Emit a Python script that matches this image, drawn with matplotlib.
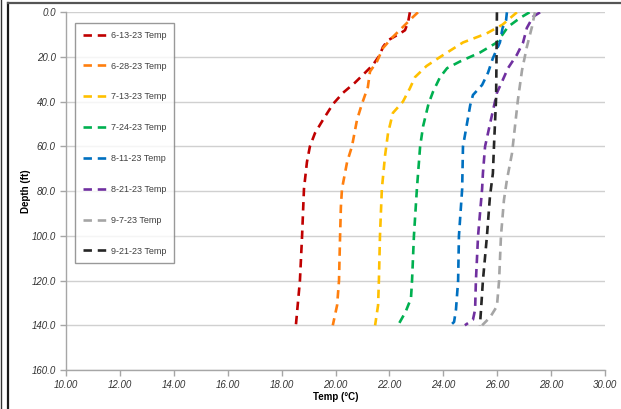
import matplotlib
matplotlib.use("Agg")
from matplotlib import pyplot as plt
from matplotlib.lines import Line2D
from matplotlib.ticker import FormatStrFormatter, MultipleLocator

plt.rcParams["font.family"] = ["Liberation Sans", "DejaVu Sans"]

# --- Datos (profundidad ft, temperatura °C) ---
labels = ["6-13-23 Temp", "6-28-23 Temp", "7-13-23 Temp", "7-24-23 Temp",
          "8-11-23 Temp", "8-21-23 Temp", "9-7-23 Temp", "9-21-23 Temp"]
colors = ["#C00000", "#FF7F0E", "#FFC000", "#00B050",
          "#0070C0", "#7030A0", "#A5A5A5", "#262626"]

depth_0613 = [0, 4, 8, 9.5, 12.5, 15.5, 19, 23.5, 27, 31.5, 36, 41, 48, 54, 60, 67, 79, 100, 120, 140]
temp_0613 = [22.76, 22.7, 22.58, 22.39, 21.95, 21.76, 21.65, 21.39, 21.1, 20.72, 20.28, 19.91, 19.54, 19.24, 19.05, 18.94, 18.83, 18.76, 18.68, 18.53]

depth_0628 = [0, 2.5, 11, 16, 22, 26.5, 33.5, 41, 48, 60, 67, 79, 87, 100, 120, 131, 140]
temp_0628 = [23.06, 22.84, 22.13, 21.76, 21.54, 21.28, 21.2, 20.98, 20.8, 20.61, 20.43, 20.24, 20.2, 20.17, 20.13, 20.06, 19.9]

depth_0713 = [0, 5.5, 9.5, 13.5, 20, 24, 29, 34, 40, 45, 54, 64, 79, 100, 120, 131, 140]
temp_0713 = [26.73, 26.2, 25.6, 24.73, 23.88, 23.38, 22.95, 22.76, 22.5, 22.13, 21.95, 21.84, 21.72, 21.65, 21.61, 21.58, 21.47]

depth_0724 = [0, 2.5, 6.5, 13.5, 18, 22, 25, 29, 35.5, 41, 51, 60, 79, 100, 120, 128, 134, 140]
temp_0724 = [27.2, 26.85, 26.4, 25.99, 25.36, 24.62, 24.14, 23.88, 23.62, 23.45, 23.25, 23.14, 23.02, 22.91, 22.84, 22.8, 22.6, 22.32]

depth_0811 = [0, 3.5, 7, 13.5, 20.5, 27, 32.5, 37, 41.5, 60, 79, 100, 120, 133, 138.5, 140]
temp_0811 = [26.36, 26.33, 26.2, 26.1, 25.84, 25.66, 25.44, 25.1, 25.0, 24.73, 24.7, 24.58, 24.55, 24.47, 24.4, 24.27]

depth_0821 = [0, 2, 7, 13.5, 19, 25, 31, 36, 49, 60, 72, 79, 100, 120, 133, 137.5, 140]
temp_0821 = [27.59, 27.33, 27.1, 26.96, 26.73, 26.4, 26.18, 25.99, 25.75, 25.55, 25.47, 25.44, 25.29, 25.21, 25.18, 25.1, 24.8]

depth_0907 = [0, 6.5, 15.5, 26, 39, 51, 63, 75, 84, 100, 120, 131.5, 136.5, 140]
temp_0907 = [27.4, 27.29, 27.1, 26.92, 26.77, 26.66, 26.55, 26.36, 26.25, 26.14, 26.07, 25.99, 25.73, 25.44]

depth_0921 = [0, 38, 60, 72, 82.5, 100, 120, 133, 140]
temp_0921 = [25.99, 25.96, 25.88, 25.84, 25.73, 25.62, 25.47, 25.4, 25.36]

series = [
    (depth_0613, temp_0613), (depth_0628, temp_0628), (depth_0713, temp_0713),
    (depth_0724, temp_0724), (depth_0811, temp_0811), (depth_0821, temp_0821),
    (depth_0907, temp_0907), (depth_0921, temp_0921),
]

fig = plt.figure(figsize=(6.21, 4.09), dpi=100)
ax = fig.add_axes([66 / 621, 1 - 370 / 409, 539 / 621, (370 - 12.3) / 409])

for (d, t), c, lab in zip(series, colors, labels):
    ax.plot(t, d, color=c, lw=1.9, dashes=(3.2, 2.2), label=lab,
            solid_capstyle="butt", dash_capstyle="butt")

ax.set_xlim(10, 30)
ax.set_ylim(160, 0)
ax.xaxis.set_major_locator(MultipleLocator(2))
ax.yaxis.set_major_locator(MultipleLocator(20))
ax.xaxis.set_major_formatter(FormatStrFormatter("%.2f"))
ax.yaxis.set_major_formatter(FormatStrFormatter("%.1f"))
ax.grid(axis="y", color="#D0D0D0", lw=1.0)
ax.set_axisbelow(True)

for s in ("top", "right"):
    ax.spines[s].set_visible(False)
for s in ("left", "bottom"):
    ax.spines[s].set_color("#A6A6A6")
    ax.spines[s].set_linewidth(1.0)

ax.tick_params(axis="both", colors="#A6A6A6", length=4, width=1, labelsize=7,
               labelcolor="#333333")
for lbl in ax.get_xticklabels() + ax.get_yticklabels():
    lbl.set_fontstyle("italic")

ax.set_xlabel("Temp (°C)", fontsize=7, fontweight="bold", labelpad=1.5)
ax.set_ylabel("Depth (ft)", fontsize=7, fontweight="bold", labelpad=0)

leg = ax.legend(loc="upper left", bbox_to_anchor=((75 - 66) / 539, 1 - (23 - 12.3) / 357.7),
                fontsize=6.5, frameon=True, fancybox=False, borderaxespad=0,
                labelspacing=2.42, handlelength=2.6, handletextpad=0.5,
                borderpad=0.85)
leg.get_frame().set_edgecolor("#808080")
leg.get_frame().set_linewidth(1.0)
for txt in leg.get_texts():
    txt.set_color("#404040")

# --- Marco del gráfico ---
fig.add_artist(Line2D([7.5 / 621, 7.5 / 621], [0, 1 - 2.5 / 409], color="#1A1A1A", lw=1.6,
                      transform=fig.transFigure))
fig.add_artist(Line2D([7.5 / 621, 1], [1 - 2.5 / 409, 1 - 2.5 / 409], color="#555555", lw=1.6,
                      transform=fig.transFigure))
fig.add_artist(Line2D([0.5 / 621, 0.5 / 621], [0, 1], color="#333333", lw=1.0,
                      transform=fig.transFigure))

fig.savefig("out.png", dpi=100)
